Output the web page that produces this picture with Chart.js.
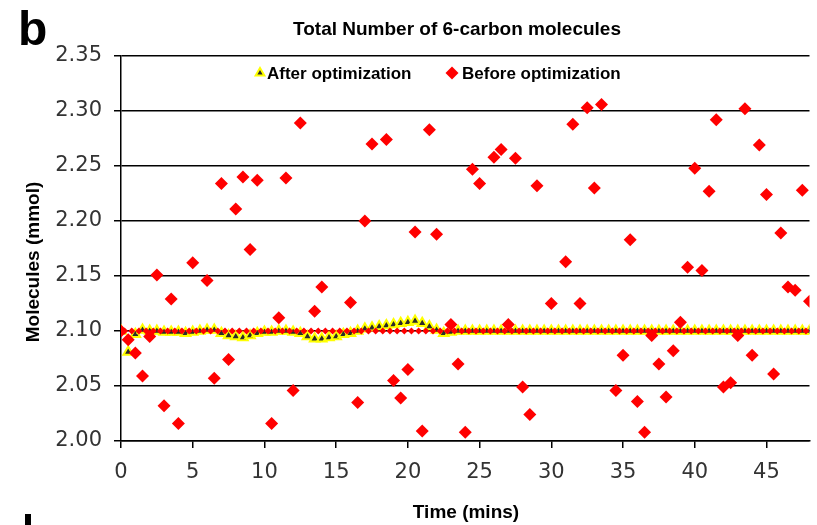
<!DOCTYPE html>
<html>
<head>
<meta charset="utf-8">
<script src="https://cdn.jsdelivr.net/npm/chart.js@4.4.1/dist/chart.umd.min.js"></script>
<style>
  html, body { margin: 0; padding: 0; background: #fff; }
  #wrap { position: relative; width: 817px; height: 525px; }
</style>
</head>
<body>
<div id="wrap"><canvas id="chart"></canvas></div>
<script>
// Textos do painel
const panelLetter = 'b';
const chartTitle = 'Total Number of 6-carbon molecules';
const xTitle = 'Time (mins)';
const yTitle = 'Molecules (mmol)';
const afterLabel = 'After optimization';
const beforeLabel = 'Before optimization';

// Eixo Y (mmol)
const yMin = 2.00;
const yMax = 2.35;
const yStep = 0.05;
// Eixo X (minutos)
const xMin = 0;
const xMax = 48;
const xStep = 5;

// Depois da otimização: um ponto a cada 0,5 min
const times = [
    0, 0.5, 1, 1.5, 2, 2.5, 3, 3.5, 4, 4.5, 5, 5.5, 6, 6.5, 7, 7.5, 8, 8.5, 9, 9.5,
    10, 10.5, 11, 11.5, 12, 12.5, 13, 13.5, 14, 14.5, 15, 15.5, 16, 16.5, 17, 17.5, 18, 18.5, 19, 19.5,
    20, 20.5, 21, 21.5, 22, 22.5, 23, 23.5, 24, 24.5, 25, 25.5, 26, 26.5, 27, 27.5, 28, 28.5, 29, 29.5,
    30, 30.5, 31, 31.5, 32, 32.5, 33, 33.5, 34, 34.5, 35, 35.5, 36, 36.5, 37, 37.5, 38, 38.5, 39, 39.5,
    40, 40.5, 41, 41.5, 42, 42.5, 43, 43.5, 44, 44.5, 45, 45.5, 46, 46.5, 47, 47.5, 48
];
const afterValues = [
    2.100, 2.081, 2.097, 2.101, 2.100, 2.100, 2.099, 2.099, 2.099, 2.098, 2.099, 2.100, 2.101, 2.101, 2.098, 2.096, 2.095, 2.094, 2.096, 2.098,
    2.099, 2.099, 2.100, 2.100, 2.099, 2.098, 2.095, 2.093, 2.093, 2.094, 2.095, 2.097, 2.098, 2.100, 2.102, 2.103, 2.104, 2.105, 2.106, 2.107,
    2.108, 2.109, 2.107, 2.104, 2.101, 2.098, 2.099, 2.100, 2.100, 2.100, 2.100, 2.100, 2.100, 2.100, 2.100, 2.100, 2.100, 2.100, 2.100, 2.100,
    2.100, 2.100, 2.100, 2.100, 2.100, 2.100, 2.100, 2.100, 2.100, 2.100, 2.100, 2.100, 2.100, 2.100, 2.100, 2.100, 2.100, 2.100, 2.100, 2.100,
    2.100, 2.100, 2.100, 2.100, 2.100, 2.100, 2.100, 2.100, 2.100, 2.100, 2.100, 2.100, 2.100, 2.100, 2.100, 2.100, 2.100
];

// Antes da otimização (pontos espalhados)
const beforeTimes = [
    0, 0.5, 1, 1.5, 2, 2.5, 3, 3.5, 4, 5, 6, 6.5, 7, 7.5, 8, 8.5, 9, 9.5,
    10.5, 11, 11.5, 12, 12.5, 13.5, 14, 16, 16.5, 17, 17.5, 18.5, 19, 19.5,
    20, 20.5, 21, 21.5, 22, 23, 23.5, 24, 24.5, 25, 26, 26.5, 27, 27.5, 28, 28.5, 29,
    30, 31, 31.5, 32, 32.5, 33, 33.5, 34.5, 35, 35.5, 36, 36.5, 37, 37.5, 38, 38.5, 39, 39.5,
    40, 40.5, 41, 41.5, 42, 42.5, 43, 43.5, 44, 44.5, 45, 45.5, 46, 46.5, 47, 47.5, 48
];
const beforeValues = [
    2.100, 2.092, 2.080, 2.059, 2.095, 2.151, 2.032, 2.129, 2.016, 2.162, 2.146, 2.057, 2.234, 2.074, 2.211, 2.240, 2.174, 2.237,
    2.016, 2.112, 2.239, 2.046, 2.289, 2.118, 2.140, 2.126, 2.035, 2.200, 2.270, 2.274, 2.055, 2.039,
    2.065, 2.190, 2.009, 2.283, 2.188, 2.106, 2.070, 2.008, 2.247, 2.234, 2.258, 2.265, 2.106, 2.257, 2.049, 2.024, 2.232,
    2.125, 2.163, 2.288, 2.125, 2.303, 2.230, 2.306, 2.046, 2.078, 2.183, 2.036, 2.008, 2.096, 2.070, 2.040, 2.082, 2.108, 2.158,
    2.248, 2.155, 2.227, 2.292, 2.049, 2.053, 2.096, 2.302, 2.078, 2.269, 2.224, 2.061, 2.189, 2.140, 2.137, 2.228, 2.127
];

// Nível de referência (pequenos losangos vermelhos em 2,10)
const targetLevel = 2.10;
const targetTimes = [
    0.25, 0.75, 1.25, 1.75, 2.25, 2.75, 3.25, 3.75, 4.25, 4.75, 5.25, 5.75, 6.25, 6.75, 7.25, 7.75, 8.25, 8.75, 9.25, 9.75,
    10.25, 10.75, 11.25, 11.75, 12.25, 12.75, 13.25, 13.75, 14.25, 14.75, 15.25, 15.75, 16.25, 16.75, 17.25, 17.75, 18.25, 18.75, 19.25, 19.75,
    20.25, 20.75, 21.25, 21.75, 22.25, 22.75, 23.25, 23.75, 24.25, 24.75, 25.25, 25.75, 26.25, 26.75, 27.25, 27.75, 28.25, 28.75, 29.25, 29.75,
    30.25, 30.75, 31.25, 31.75, 32.25, 32.75, 33.25, 33.75, 34.25, 34.75, 35.25, 35.75, 36.25, 36.75, 37.25, 37.75, 38.25, 38.75, 39.25, 39.75,
    40.25, 40.75, 41.25, 41.75, 42.25, 42.75, 43.25, 43.75, 44.25, 44.75, 45.25, 45.75, 46.25, 46.75, 47.25, 47.75
];

const toPoints = (xs, ys) => xs.map((x, i) => ({ x: x, y: ys[i] }));

const boldFont = '"Liberation Sans", Arial, sans-serif';
const tickFont = { family: '"DejaVu Sans", sans-serif', size: 21 };

const afterStyle = { pointStyle: 'triangle', radius: 5.5, rotation: 0, borderWidth: 2, backgroundColor: '#2b2b2b', borderColor: '#ffff00' };
const beforeStyle = { pointStyle: 'rectRot', radius: 6.5, rotation: 0, borderWidth: 0, backgroundColor: '#ff0000', borderColor: '#ff0000' };

// Textos, legenda interna e marca do painel seguinte
const panelText = {
    id: 'panelText',
    afterDraw(chart) {
        const ctx = chart.ctx;
        const area = chart.chartArea;
        ctx.save();
        ctx.fillStyle = '#000';

        ctx.font = 'bold 48px ' + boldFont;
        ctx.textAlign = 'left';
        ctx.textBaseline = 'alphabetic';
        ctx.fillText(panelLetter, 18, 45);

        ctx.font = 'bold 19px ' + boldFont;
        ctx.textAlign = 'center';
        ctx.textBaseline = 'middle';
        ctx.fillText(chartTitle, 457, 30);
        ctx.fillText(xTitle, 466, 513);

        ctx.save();
        ctx.translate(34, 262);
        ctx.rotate(-Math.PI / 2);
        ctx.fillText(yTitle, 0, 0);
        ctx.restore();

        // legenda
        ctx.font = 'bold 17px ' + boldFont;
        ctx.textAlign = 'left';
        const ly = area.top + 17;
        ctx.fillStyle = afterStyle.backgroundColor;
        ctx.strokeStyle = afterStyle.borderColor;
        ctx.lineWidth = afterStyle.borderWidth;
        Chart.helpers.drawPoint(ctx, Object.assign({}, afterStyle, { radius: 5 }), 260, ly);
        ctx.fillStyle = '#000';
        ctx.fillText(afterLabel, 267, ly + 1);
        ctx.fillStyle = beforeStyle.backgroundColor;
        ctx.strokeStyle = beforeStyle.borderColor;
        ctx.lineWidth = 0;
        Chart.helpers.drawPoint(ctx, beforeStyle, 452, ly);
        ctx.fillStyle = '#000';
        ctx.fillText(beforeLabel, 462, ly + 1);

        // topo da letra do painel seguinte, cortada
        ctx.fillRect(25, 514, 6, 11);
        ctx.restore();
    }
};

const ctx = document.getElementById('chart').getContext('2d');
const chart = new Chart(ctx, {
    type: 'scatter',
    data: {
        datasets: [{
            label: beforeLabel,
            data: toPoints(beforeTimes, beforeValues),
            pointStyle: beforeStyle.pointStyle,
            pointRadius: beforeStyle.radius,
            pointBorderWidth: 0,
            backgroundColor: beforeStyle.backgroundColor,
            borderColor: beforeStyle.borderColor
        }, {
            label: 'Target',
            data: targetTimes.map(t => ({ x: t, y: targetLevel })),
            pointStyle: 'rectRot',
            pointRadius: 3.5,
            pointBorderWidth: 0,
            backgroundColor: '#ff0000',
            borderColor: '#ff0000'
        }, {
            label: afterLabel,
            data: toPoints(times, afterValues),
            pointStyle: afterStyle.pointStyle,
            pointRadius: afterStyle.radius,
            pointBorderWidth: afterStyle.borderWidth,
            backgroundColor: afterStyle.backgroundColor,
            borderColor: afterStyle.borderColor
        }]
    },
    options: {
        responsive: true,
        maintainAspectRatio: false,
        animation: false,
        layout: { padding: { top: 56, right: 2, left: 0, bottom: 0 } },
        plugins: {
            legend: { display: false },
            title: { display: false },
            tooltip: { enabled: false }
        },
        scales: {
            x: {
                type: 'linear',
                min: xMin,
                max: xMax,
                afterBuildTicks: scale => {
                    scale.ticks = scale.ticks.filter(t => t.value % xStep === 0);
                },
                afterFit: scale => { scale.height = 84; },
                ticks: {
                    stepSize: xStep,
                    font: tickFont,
                    color: '#333',
                    padding: 12,
                    maxRotation: 0
                },
                grid: {
                    drawOnChartArea: false,
                    drawTicks: true,
                    tickLength: 7,
                    color: '#000',
                    lineWidth: 1.5
                },
                border: { display: true, color: '#000', width: 1.5 }
            },
            y: {
                min: yMin,
                max: yMax,
                afterFit: scale => { scale.width = 121; },
                ticks: {
                    stepSize: yStep,
                    font: tickFont,
                    color: '#333',
                    padding: 12,
                    callback: v => Number(v).toFixed(2)
                },
                grid: {
                    drawTicks: true,
                    tickLength: 7,
                    color: '#000',
                    lineWidth: 1.5
                },
                border: { display: true, color: '#000', width: 1.5 }
            }
        }
    },
    plugins: [panelText]
});
</script>
</body>
</html>
